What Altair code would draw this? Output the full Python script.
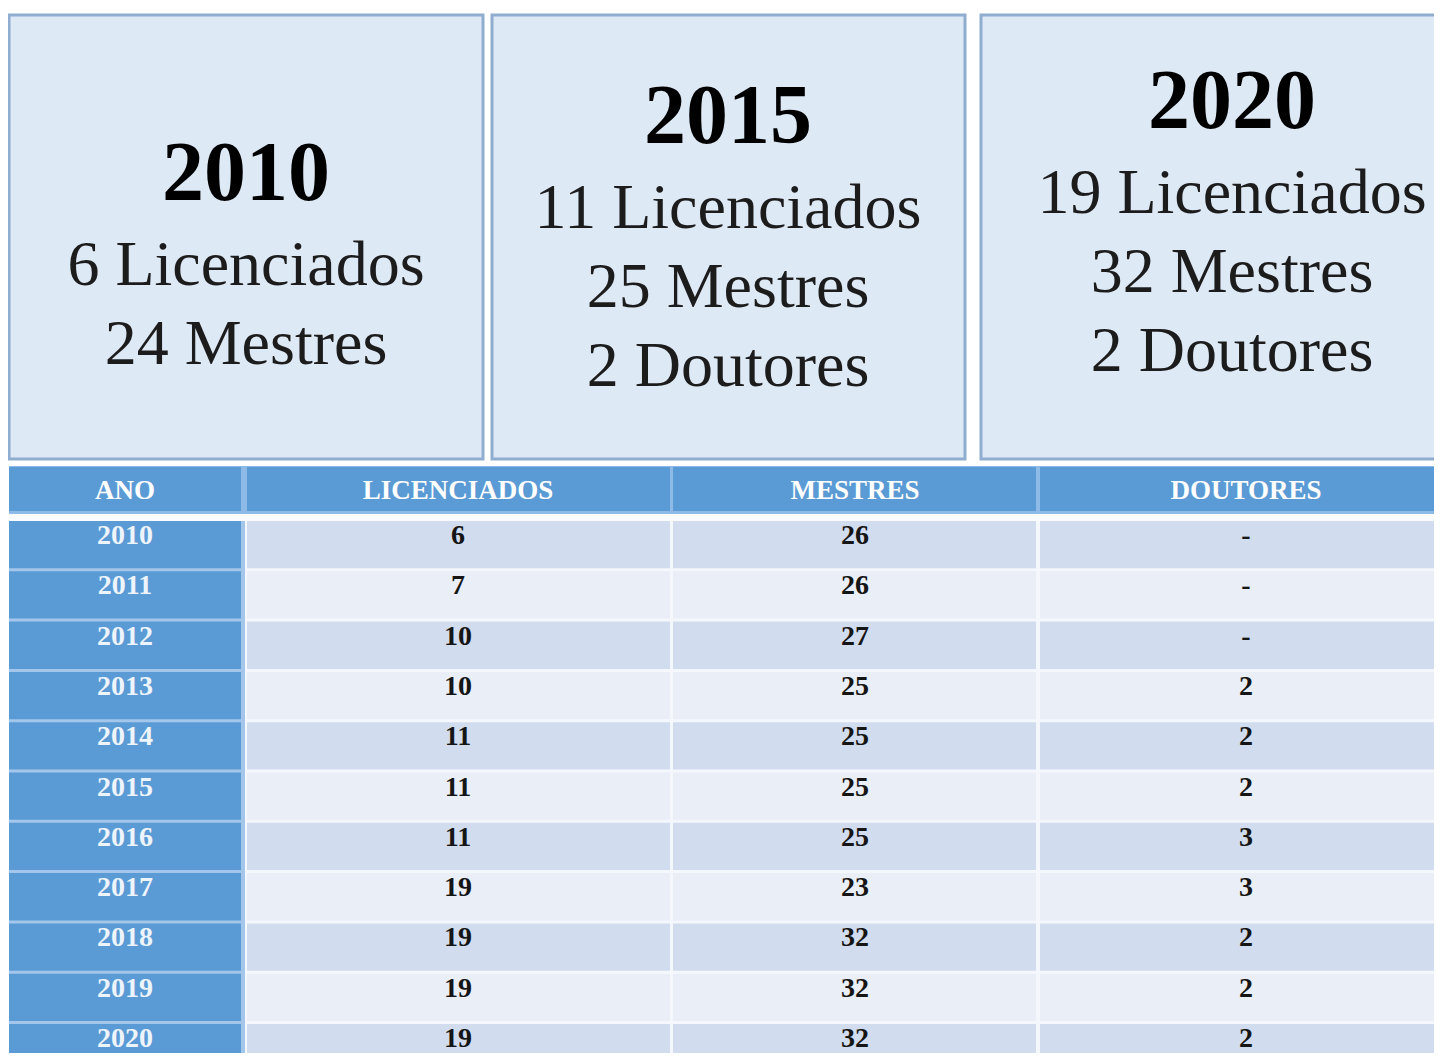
import altair as alt
import pandas as pd

# ---------------- data ----------------
years = [2010, 2011, 2012, 2013, 2014, 2015, 2016, 2017, 2018, 2019, 2020]
licenciados = [6, 7, 10, 10, 11, 11, 11, 19, 19, 19, 19]
mestres = [26, 26, 27, 25, 25, 25, 25, 23, 32, 32, 32]
doutores = [None, None, None, 2, 2, 2, 3, 3, 2, 2, 2]
headers = ["ANO", "LICENCIADOS", "MESTRES", "DOUTORES"]

summary_years = [2010, 2015, 2020]
summary_lic = [6, 11, 19]
summary_mest = [24, 25, 32]
summary_dout = [None, 2, 2]

# ---------------- layout (page pixel units) ----------------
W, H = 1426, 1045
OX, OY = 8, 8
box_left = [9, 492, 981]
box_right = [483, 965, 1520]
box_top, box_bottom = 15, 459
box_center = [246, 728, 1232]
box_first_line = [285, 228, 213]
year_gap = 85
line_gap = 79

col_left = [9, 247, 673, 1040]
col_right = [241, 670, 1036, 1460]
col_center = [125, 458, 855, 1246]
header_top, header_bottom = 467, 511
row_top0 = 521
row_pitch = 50.3
row_height = 47.3
text_offset = 23

BLUE = "#5b9bd5"
DARK_ROW = "#d1ddee"
LIGHT_ROW = "#e9eef7"
BOX_FILL = "#dee9f6"
BOX_STROKE = "#8eadcf"
FONT = "Liberation Serif"

# ---------------- frames ----------------
boxes = pd.DataFrame({
    "x": box_left, "x2": box_right,
    "y": [box_top] * 3, "y2": [box_bottom] * 3,
})

year_rows, line_rows = [], []
for b in range(3):
    first = box_first_line[b]
    year_rows.append({"x": box_center[b], "y": first - year_gap,
                      "t": str(summary_years[b])})
    lines = [f"{summary_lic[b]} Licenciados", f"{summary_mest[b]} Mestres"]
    if summary_dout[b] is not None:
        lines.append(f"{summary_dout[b]} Doutores")
    for k, t in enumerate(lines):
        line_rows.append({"x": box_center[b], "y": first + k * line_gap, "t": t})
year_df = pd.DataFrame(year_rows)
line_df = pd.DataFrame(line_rows)

bg_rows = [
    {"x": 9, "x2": 1460, "y": header_top - 1, "y2": header_bottom + 3, "f": "#8dbae6"},
    {"x": 9, "x2": 245, "y": header_bottom + 3, "y2": 1070, "f": "#a3c6ea"},
    {"x": 245, "x2": 1460, "y": header_bottom + 3, "y2": 1070, "f": "#f4f7fc"},
    {"x": 9, "x2": 1460, "y": header_bottom + 3, "y2": row_top0, "f": "#fafbfd"},
]
bg_df = pd.DataFrame(bg_rows)

cell_rows, head_text, ano_text, val_text = [], [], [], []
for j, h in enumerate(headers):
    cell_rows.append({"x": col_left[j], "x2": col_right[j],
                      "y": header_top, "y2": header_bottom, "f": BLUE})
    head_text.append({"x": col_center[j], "y": header_bottom - 12, "t": h})
for i, yr in enumerate(years):
    top = row_top0 + i * row_pitch
    vals = [str(yr), str(licenciados[i]), str(mestres[i]),
            "-" if doutores[i] is None else str(doutores[i])]
    for j in range(4):
        fill = BLUE if j == 0 else (DARK_ROW if i % 2 == 0 else LIGHT_ROW)
        cell_rows.append({"x": col_left[j], "x2": col_right[j],
                          "y": top, "y2": top + row_height, "f": fill})
        rec = {"x": col_center[j], "y": top + text_offset, "t": vals[j]}
        (ano_text if j == 0 else val_text).append(rec)
cell_df = pd.DataFrame(cell_rows)
head_df = pd.DataFrame(head_text)
ano_df = pd.DataFrame(ano_text)
val_df = pd.DataFrame(val_text)

# ---------------- scales ----------------
xs = alt.Scale(domain=[OX, OX + W], nice=False, zero=False)
ys = alt.Scale(domain=[OY, OY + H], nice=False, zero=False, reverse=True)


def text_layer(df, **mark):
    return alt.Chart(df).mark_text(font=FONT, align="center",
                                   baseline="alphabetic", **mark).encode(
        x=alt.X("x:Q", scale=xs, axis=None),
        y=alt.Y("y:Q", scale=ys, axis=None),
        text="t:N",
    )


def fill_layer(df):
    return alt.Chart(df).mark_rect(clip=True).encode(
        x=alt.X("x:Q", scale=xs, axis=None), x2="x2:Q",
        y=alt.Y("y:Q", scale=ys, axis=None), y2="y2:Q",
        fill=alt.Fill("f:N", scale=None),
    )


box_layer = alt.Chart(boxes).mark_rect(
    clip=True, fill=BOX_FILL, stroke=BOX_STROKE, strokeWidth=3
).encode(
    x=alt.X("x:Q", scale=xs, axis=None), x2="x2:Q",
    y=alt.Y("y:Q", scale=ys, axis=None), y2="y2:Q",
)
bg_layer = fill_layer(bg_df)
cell_layer = fill_layer(cell_df)

year_layer = text_layer(year_df, fontSize=84, fontWeight="bold", color="#000000")
line_layer = text_layer(line_df, fontSize=64, fontWeight="normal", color="#1c1c1c")
head_layer = text_layer(head_df, fontSize=27, fontWeight="bold", color="#ffffff")
ano_layer = text_layer(ano_df, fontSize=28, fontWeight="bold", color="#eef4fb")
val_layer = text_layer(val_df, fontSize=28, fontWeight="bold", color="#151515")

chart = alt.layer(
    box_layer, year_layer, line_layer,
    bg_layer, cell_layer, head_layer, ano_layer, val_layer,
).properties(
    width=W, height=H, padding=0, autosize="none",
).configure(background="#ffffff").configure_view(stroke="transparent", strokeWidth=0)

chart.save("out.html", embed_options={"renderer": "svg", "actions": False})
